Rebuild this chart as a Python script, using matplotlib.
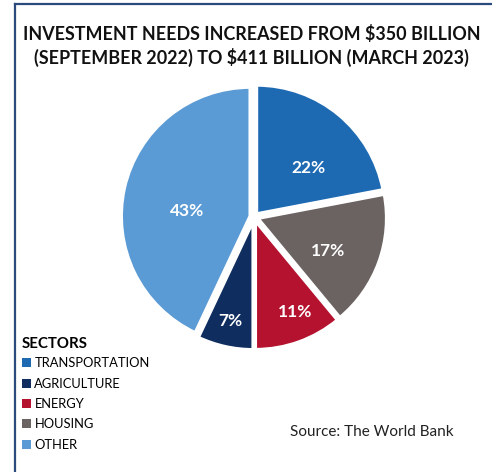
import matplotlib.pyplot as plt
import numpy as np
from matplotlib.patches import Patch
from matplotlib.lines import Line2D

plt.rcParams['font.family'] = ['Lato', 'DejaVu Sans']

## DATA ##
# pie order: clockwise from the top
SECTORS = ["TRANSPORTATION", "HOUSING", "ENERGY", "AGRICULTURE", "OTHER"]
SHARES = [22, 17, 11, 7, 43]
COLORS = ["#1d6ab3", "#6b6361", "#b5122f", "#0f2d5e", "#5b9bd5"]

LEGEND_ORDER = ["TRANSPORTATION", "AGRICULTURE", "ENERGY", "HOUSING", "OTHER"]

TITLE = "INVESTMENT NEEDS INCREASED FROM $350 BILLION\n(SEPTEMBER 2022) TO $411 BILLION (MARCH 2023)"
SOURCE = "Source: The World Bank"

# where each % label sits inside its wedge (radius fraction, angle nudge in deg)
LABEL_R = [0.54, 0.60, 0.77, 0.80, 0.49]
LABEL_DT = [-9, -5, 4, 0, 8]

fig = plt.figure(figsize=(4.92, 4.72), dpi=100)

# navy frame along the left and top edges
fig.add_artist(Line2D([15/492, 15/492], [0, 1 - 4/472], color="#2b4a7e", lw=1.6))
fig.add_artist(Line2D([15/492, 1], [1 - 4/472, 1 - 4/472], color="#2b4a7e", lw=1.6))

ax = fig.add_axes([0.2016, 0.2123, 0.6293, 0.656])
wedges, _ = ax.pie(SHARES, colors=COLORS, startangle=90, counterclock=False,
                   explode=[0.03]*len(SHARES),
                   wedgeprops=dict(edgecolor="white", linewidth=2.5))
ax.set_xlim(-1.2, 1.2)
ax.set_ylim(-1.2, 1.2)
ax.set_aspect("equal")
ax.axis("off")

for w, val, lr, dt in zip(wedges, SHARES, LABEL_R, LABEL_DT):
    mid = np.deg2rad((w.theta1 + w.theta2) / 2 + dt)
    cx, cy = w.center
    ax.text(cx + lr*np.cos(mid), cy + lr*np.sin(mid), f"{val}%",
            ha="center", va="center", color="white",
            fontsize=12.5, fontweight="bold")

fig.text(0.512, 0.903, TITLE, ha="center", va="center", fontsize=12.85,
         fontweight="bold", linespacing=1.3, color="#111111")

handles = [Patch(facecolor=COLORS[SECTORS.index(s)]) for s in LEGEND_ORDER]
leg = fig.legend(handles, LEGEND_ORDER, loc="upper left",
                 bbox_to_anchor=(0.045, 0.287), frameon=False,
                 title="SECTORS", alignment="left",
                 fontsize=9.3, handlelength=0.7, handleheight=0.7,
                 handletextpad=0.25, labelspacing=0.64, borderpad=0,
                 borderaxespad=0)
leg.get_title().set_fontweight("bold")
leg.get_title().set_fontsize(10.8)
leg._legend_box.sep = 5

fig.text(0.755, 0.0845, SOURCE, ha="center", va="center", fontsize=11,
         color="#222222")

fig.savefig("out.png", dpi=100)
